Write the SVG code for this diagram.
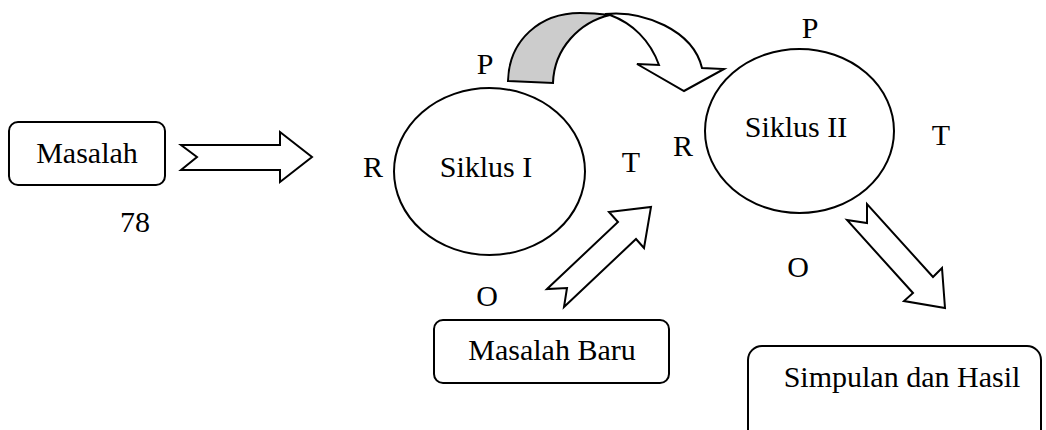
<svg xmlns="http://www.w3.org/2000/svg" width="1046" height="430" viewBox="0 0 1046 430">
  <style>
    .box { fill: #ffffff; stroke: #000000; stroke-width: 2; }
    .shape { fill: #ffffff; stroke: #000000; stroke-width: 2; stroke-linejoin: miter; }
    .back { fill: #cccccc; stroke: #000000; stroke-width: 2; stroke-linejoin: miter; }
    .t { font-family: "Liberation Serif", "Times New Roman", serif; font-size: 30px; fill: #000000; text-anchor: middle; }
  </style>
  <rect width="1046" height="430" fill="#ffffff"/>

  <!-- block arrows -->
  <g id="connectors">
    <polygon class="shape" points="181,145 280,145 280,132 312,157 280,182 280,170 181,170 197,157"/>
    <polygon class="shape" points="547,289 618,222 609,212 651,207 644,248 636,239 564,307 567,288"/>
    <polygon class="shape" points="847,220 867,223 867,204 933,277 942,268 945,308 904,301 913,293"/>
    <!-- curved arrow from Siklus I over to Siklus II -->
    <path class="shape" d="M605,14 C643,10 693,30 702,68 L724,69 L684,91 L637,64 L659,65 C650,40 632,23 610,15 Z"/>
    <path class="back" d="M508,81 C509,40 540,13 580,13 C592,13 602,14 610,15 C580,22 554,48 553,83 Z"/>
  </g>

  <g id="masalah">
    <rect class="box" x="9" y="122" width="156" height="63" rx="9"/>
    <text class="t" x="87" y="163" font-size="31">Masalah</text>
    <text class="t" x="135" y="232" font-size="31">78</text>
  </g>

  <g id="siklus1">
    <ellipse class="box" cx="489.5" cy="171.5" rx="95.5" ry="83.5"/>
    <text class="t" x="486" y="177">Siklus I</text>
    <text class="t" x="485" y="74">P</text>
    <text class="t" x="373" y="177">R</text>
    <text class="t" x="631" y="172">T</text>
    <text class="t" x="487" y="306">O</text>
  </g>

  <g id="siklus2">
    <ellipse class="box" cx="799.5" cy="131" rx="94.5" ry="82"/>
    <text class="t" x="796" y="137">Siklus II</text>
    <text class="t" x="810" y="38">P</text>
    <text class="t" x="683" y="156">R</text>
    <text class="t" x="941" y="145">T</text>
    <text class="t" x="798" y="277">O</text>
  </g>

  <g id="masalah-baru">
    <rect class="box" x="434" y="320" width="235" height="63" rx="9"/>
    <text class="t" x="552" y="360">Masalah Baru</text>
  </g>

  <g id="simpulan">
    <rect class="box" x="748" y="346" width="293" height="120" rx="14"/>
    <text class="t" x="902" y="387">Simpulan dan Hasil</text>
  </g>
</svg>
